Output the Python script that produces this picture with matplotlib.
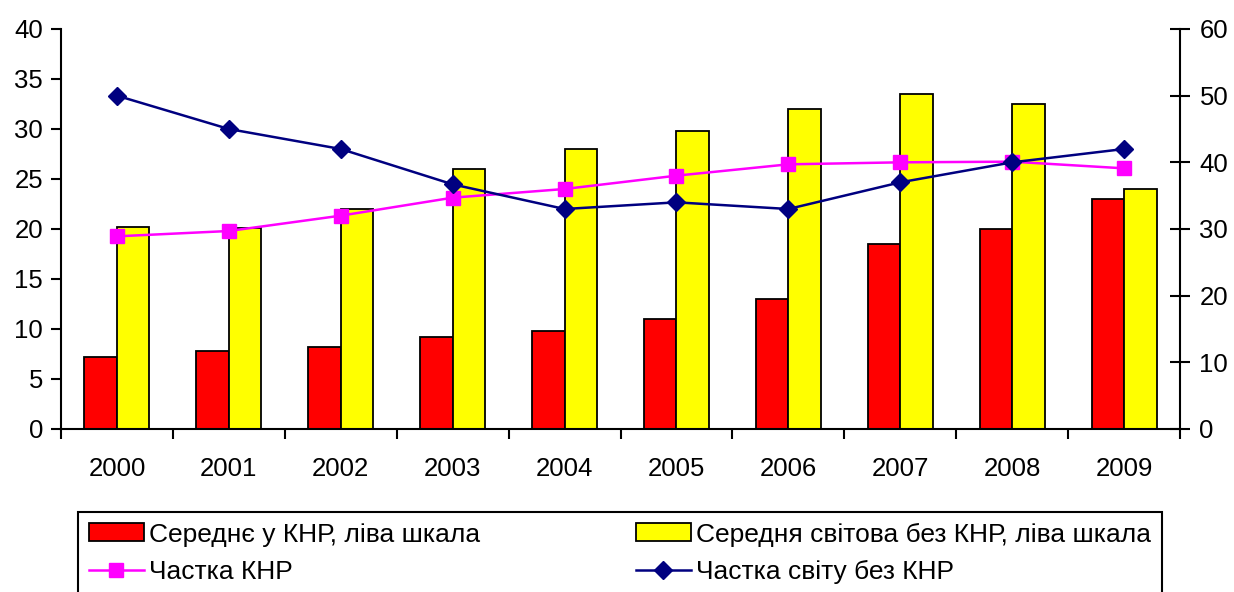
import matplotlib
matplotlib.use("Agg")
import matplotlib.pyplot as plt
import numpy as np

plt.rcParams['font.family'] = ['Liberation Sans', 'DejaVu Sans']

years = ['2000', '2001', '2002', '2003', '2004', '2005', '2006', '2007', '2008', '2009']
avg_china = [7.2, 7.8, 8.2, 9.2, 9.8, 11.0, 13.0, 18.5, 20.0, 23.0]
avg_world = [20.2, 20.1, 22.0, 26.0, 28.0, 29.8, 32.0, 33.5, 32.5, 24.0]
share_china = [28.9, 29.7, 32.0, 34.7, 36.0, 38.0, 39.7, 40.0, 40.1, 39.1]
share_world = [50.0, 45.0, 42.0, 36.7, 33.0, 34.0, 33.0, 37.0, 40.0, 42.0]

labels = ['Середнє у КНР, ліва шкала', 'Середня світова без КНР, ліва шкала',
          'Частка КНР', 'Частка світу без КНР']

W, H = 1234, 592
fig = plt.figure(figsize=(W / 100, H / 100), dpi=100)
ax = fig.add_axes([61 / W, 1 - 429 / H, (1180 - 61) / W, (429 - 29) / H])
ax2 = ax.twinx()

x = np.arange(len(years))
bw = 0.29
b1 = ax.bar(x - bw / 2, avg_china, bw, color='#FF0000', edgecolor='black', linewidth=1.3)
b2 = ax.bar(x + bw / 2, avg_world, bw, color='#FFFF00', edgecolor='black', linewidth=1.3)

l1, = ax2.plot(x, share_china, color='#FF00FF', lw=1.8, marker='s', markersize=10,
               markeredgecolor='#FF00FF', markerfacecolor='#FF00FF')
l2, = ax2.plot(x, share_world, color='#000080', lw=1.8, marker='D', markersize=9,
               markeredgecolor='#000080', markerfacecolor='#000080')

ax.set_xlim(-0.5, len(years) - 0.5)
ax.set_ylim(0, 40)
ax2.set_ylim(0, 60)
ax.set_yticks(np.arange(0, 41, 5))
ax2.set_yticks(np.arange(0, 61, 10))

ax.set_xticks(np.arange(-0.5, len(years), 1.0))
ax.set_xticklabels([])
ax.set_xticks(x, minor=True)
ax.set_xticklabels(years, minor=True)
ax.tick_params(axis='x', which='major', direction='out', length=7, width=1.5)
ax.tick_params(axis='x', which='minor', length=0, pad=20, labelsize=18.5)
ax.tick_params(axis='y', direction='out', length=7, width=1.5, labelsize=18.5, pad=6)
ax2.tick_params(axis='y', direction='inout', length=14, width=1.5, labelsize=18.5, pad=7)

for a in (ax, ax2):
    a.spines['top'].set_visible(False)
    for s in ('left', 'right', 'bottom'):
        a.spines[s].set_linewidth(1.5)
ax.spines['right'].set_visible(False)
ax2.spines['left'].set_visible(False)
ax2.spines['bottom'].set_visible(False)

leg = fig.legend([b1, l1, b2, l2], [labels[0], labels[2], labels[1], labels[3]],
                 ncol=2, loc='upper left',
                 bbox_to_anchor=(78 / W, 1 - 512 / H, (1162 - 78) / W, 0.0),
                 mode='expand', fontsize=19, frameon=True, fancybox=False,
                 edgecolor='black', framealpha=1, handlelength=2.1, handleheight=0.68,
                 handletextpad=0.2, borderpad=0.4, labelspacing=0.52,
                 borderaxespad=0)
leg.get_frame().set_linewidth(1.5)

fig.savefig('out.png', dpi=100)
